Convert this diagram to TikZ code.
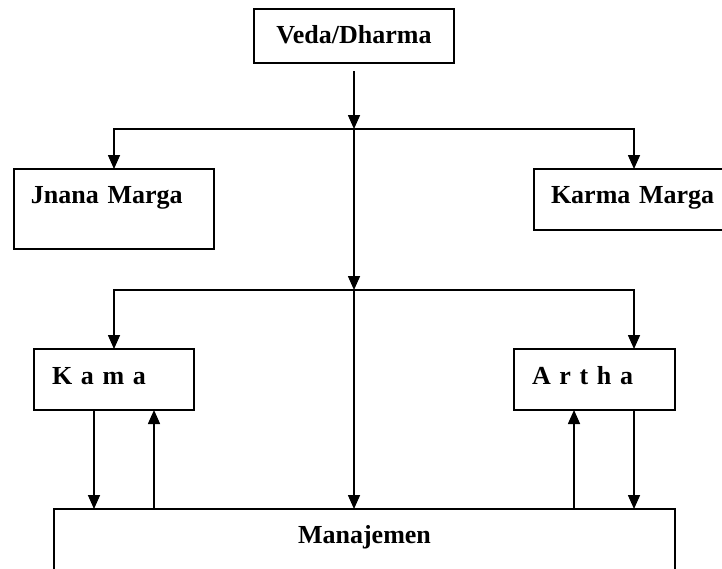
\documentclass[tikz,border=0pt]{standalone}
\usepackage{fontspec}
\setmainfont{Liberation Serif}
\usetikzlibrary{calc,arrows.meta}
\tikzset{
	kotak/.style={draw, line width=0.8pt, inner ysep=0pt, outer sep=0pt, anchor=north west, font=\fontsize{13pt}{15pt}\selectfont\bfseries},
	panah/.style={line width=0.8pt, -{Triangle[length=7pt,width=6pt]}}
}

\begin{document}
\begin{tikzpicture}[x=0.5pt, y=-0.5pt]
			%%%%% START %%%%%
			\clip (0, 0) rectangle (722, 568);
			
			\node[kotak, inner xsep=0pt, text width=100pt, align=center, text height=17pt, text depth=10pt] (veda) at (254, 9) {Veda/Dharma};
			
			\node[kotak, inner xsep=8.5pt, text width=83pt, align=left, text height=17pt, text depth=23pt] (jnana) at (14, 169) {Jnana Marga};
			\node[kotak, inner xsep=8.5pt, text width=83pt, align=left, text height=17pt, text depth=13.5pt] (karma) at (534, 169) {Karma Marga};
			
			\node[kotak, inner xsep=9pt, text width=62pt, align=left, text height=17.5pt, text depth=13pt] (kama) at (34, 349) {K a m a};
			\node[kotak, inner xsep=9pt, text width=62.5pt, align=left, text height=17.5pt, text depth=13pt] (artha) at (514, 349) {A r t h a};
			
			\node[kotak, inner xsep=0pt, text width=310.5pt, align=center, text height=17pt, text depth=23pt] (mnj) at (54, 509) {Manajemen};
			
			\coordinate (s1) at (354, 129);
			\coordinate (s2) at (354, 290);
			
			\draw[panah] ($(veda.south -| s1)+(0, 8)$) -- (s1);
			\draw[panah] (s1) -| (jnana.north);
			\draw[panah] (s1) -| ($(karma.north west)+(100, 0)$);
			\draw[panah] (s1) -- (s2);
			
			\draw[panah] (s2) -| (kama.north);
			\draw[panah] (s2) -| ($(artha.north west)+(120, 0)$);
			\draw[panah] (s2) -- (s2 |- mnj.north);
			
			\coordinate (kturun) at ($(kama.south west)+(60, 0)$);
			\coordinate (knaik) at ($(kama.south west)+(120, 0)$);
			\coordinate (anaik) at ($(artha.south west)+(60, 0)$);
			\coordinate (aturun) at ($(artha.south west)+(120, 0)$);
			
			\draw[panah] (kturun) -- (kturun |- mnj.north);
			\draw[panah] (knaik |- mnj.north) -- (knaik);
			\draw[panah] (anaik |- mnj.north) -- (anaik);
			\draw[panah] (aturun) -- (aturun |- mnj.north);
			%%%%% END %%%%%
\end{tikzpicture}
\end{document}
